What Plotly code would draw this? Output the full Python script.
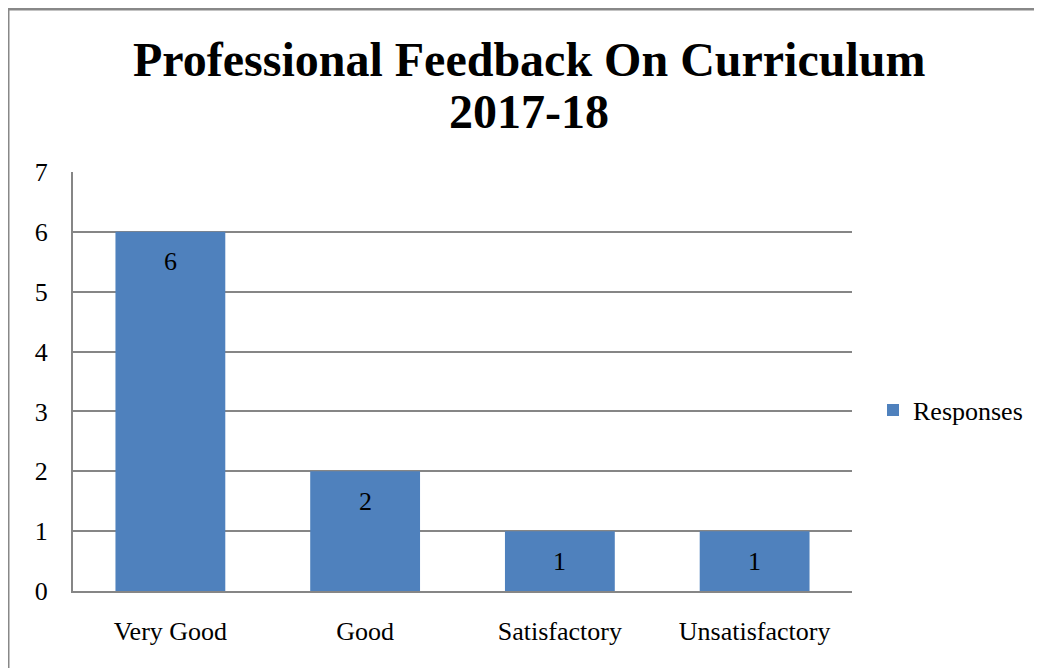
import plotly.graph_objects as go

categories = ["Very Good", "Good", "Satisfactory", "Unsatisfactory"]
responses = [6, 2, 1, 1]
y_ticks = [0, 1, 2, 3, 4, 5, 6, 7]
title_lines = ["Professional Feedback On Curriculum", "2017-18"]

FONT = "Liberation Serif, Times New Roman, serif"
W, H = 1042, 668
OFF = 8  # page offset applied by the browser
L, R, T, B = 73 - OFF, 852 - OFF, 172 - OFF, 591 - OFF
pw, ph = R - L, B - T


def px(sx):
    return (sx - OFF - L) / pw


def py(sy):
    return (B - (sy - OFF)) / ph


fig = go.Figure()
fig.add_trace(go.Bar(
    x=categories, y=responses, name="Responses",
    marker=dict(color="#4F81BD", line=dict(width=0)),
    showlegend=True, hoverinfo="x+y",
))

annotations = []
for c, v in zip(categories, responses):
    annotations.append(dict(
        x=c, y=v, xref="x", yref="y", text=str(v), showarrow=False,
        yanchor="middle", yshift=-30,
        font=dict(family=FONT, size=26, color="#000000"),
    ))
for line, sy in zip(title_lines, [59, 112]):
    annotations.append(dict(
        x=px(529), y=py(sy), xref="paper", yref="paper",
        text="<b>" + line + "</b>", showarrow=False,
        xanchor="center", yanchor="middle",
        font=dict(family=FONT, size=48, color="#000000"),
    ))

fig.update_layout(
    width=W, height=H,
    margin=dict(l=L, r=W - R, t=T, b=H - B),
    paper_bgcolor="white", plot_bgcolor="white",
    bargap=0.436,
    font=dict(family=FONT, size=26, color="#000000"),
    xaxis=dict(
        showgrid=False, showline=True, linecolor="#868686", linewidth=2,
        ticks="", tickfont=dict(family=FONT, size=26), ticklabelstandoff=16,
    ),
    yaxis=dict(
        range=[0, 7], tickvals=y_ticks, showgrid=True, gridcolor="#868686",
        gridwidth=1.5, showline=True, linecolor="#868686", linewidth=2,
        zeroline=False, ticks="", tickfont=dict(family=FONT, size=26),
        ticklabelstandoff=18,
    ),
    legend=dict(
        x=px(873), xanchor="left", y=py(410), yanchor="middle",
        font=dict(family=FONT, size=26), itemwidth=30,
        bgcolor="rgba(0,0,0,0)",
    ),
    annotations=annotations,
    shapes=[dict(
        type="rect", xref="paper", yref="paper",
        x0=(0 - L) / pw, x1=(W + 20 - L) / pw,
        y0=(B - (H + 20)) / ph, y1=(B - 1) / ph,
        line=dict(color="#888888", width=3), layer="below",
    )],
)

fig.write_html("out.html")
